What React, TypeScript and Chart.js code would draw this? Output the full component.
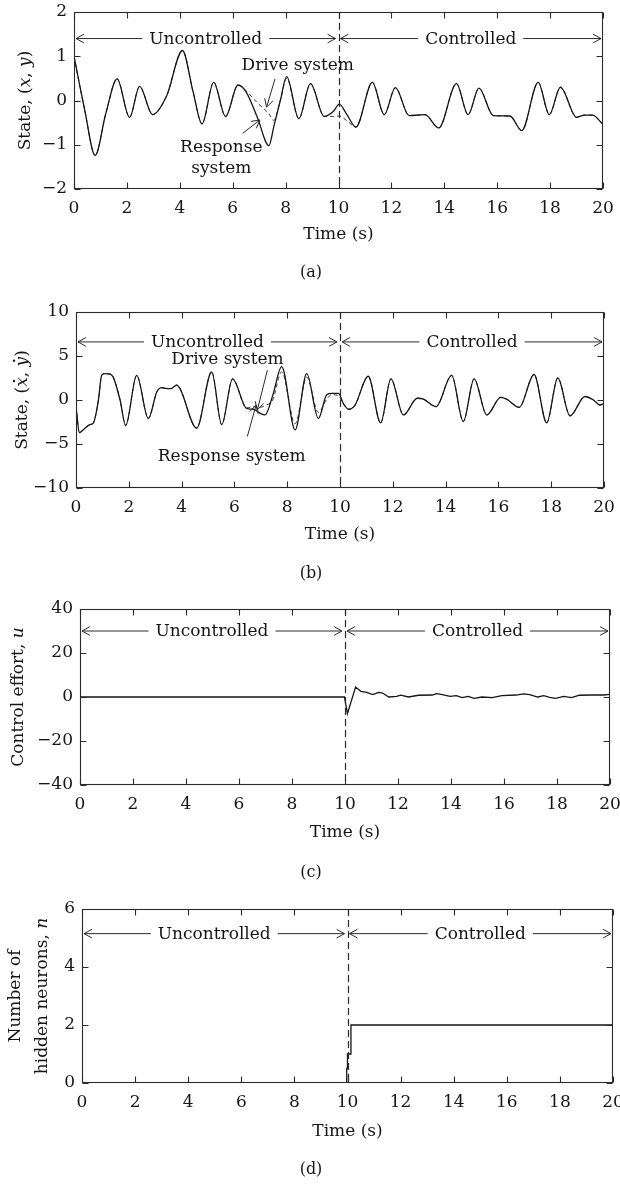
import React, { useEffect, useRef } from 'react';
import { Chart, registerables } from 'chart.js';

Chart.register(...registerables);

const SERIF = '"DejaVu Serif", "Liberation Serif", serif';
const INK = '#151515';

// ---------- axis ticks ----------
const X_TICKS = [0, 2, 4, 6, 8, 10, 12, 14, 16, 18, 20];
const Y_TICKS_A = [-2, -1, 0, 1, 2];
const Y_TICKS_B = [-10, -5, 0, 5, 10];
const Y_TICKS_C = [-40, -20, 0, 20, 40];
const Y_TICKS_D = [0, 2, 4, 6];
const SWITCH_TIME = 10;
const REGION_LABELS = ['Uncontrolled', 'Controlled'];

// ---------- (a) state x, y ----------
const TIME_A = [0, 0.4, 0.8, 1.2, 1.63, 2.1, 2.48, 2.97, 3.5, 4.1, 4.5, 4.84, 5.28, 5.73, 6.2, 6.5, 6.93, 7.37, 7.55, 7.8, 8.04, 8.5, 8.94, 9.46, 9.8, 10.03, 10.3, 10.66, 11.28, 11.73, 12.15, 12.67, 13.0, 13.27, 13.79, 14.46, 14.9, 15.31, 15.85, 16.48, 16.93, 17.55, 17.97, 18.39, 19.0, 19.3, 19.6, 20];
const RESPONSE_A = [1.0, -0.2, -1.24, -0.3, 0.49, -0.38, 0.32, -0.32, 0.1, 1.13, 0.2, -0.53, 0.41, -0.36, 0.35, 0.2, -0.38, -1.02, -0.6, 0.0, 0.54, -0.41, 0.38, -0.36, -0.25, -0.08, -0.3, -0.6, 0.41, -0.32, 0.29, -0.34, -0.33, -0.32, -0.62, 0.38, -0.32, 0.28, -0.34, -0.35, -0.68, 0.41, -0.32, 0.3, -0.38, -0.33, -0.33, -0.54];
const DRIVE_A = [1.0, -0.2, -1.24, -0.3, 0.49, -0.38, 0.32, -0.32, 0.1, 1.13, 0.2, -0.53, 0.41, -0.36, 0.35, 0.22, -0.05, -0.3, -0.45, 0.0, 0.5, -0.41, 0.38, -0.36, -0.36, -0.35, -0.45, -0.6, 0.41, -0.32, 0.29, -0.34, -0.33, -0.32, -0.62, 0.38, -0.32, 0.28, -0.34, -0.35, -0.68, 0.41, -0.32, 0.3, -0.38, -0.33, -0.33, -0.54];

// ---------- (b) state x', y' ----------
const TIME_B = [0, 0.13, 0.34, 0.53, 0.66, 0.85, 0.97, 1.1, 1.29, 1.41, 1.67, 1.88, 2.3, 2.74, 3.06, 3.24, 3.45, 3.6, 3.81, 3.94, 4.57, 5.14, 5.52, 5.93, 6.46, 6.72, 6.97, 7.16, 7.45, 7.79, 8.3, 8.74, 9.18, 9.5, 9.68, 9.94, 10.13, 10.32, 10.57, 11.07, 11.54, 11.93, 12.4, 12.93, 13.16, 13.64, 14.23, 14.67, 15.08, 15.56, 16.09, 16.31, 16.79, 17.35, 17.83, 18.25, 18.71, 19.28, 19.6, 19.85, 20];
const RESPONSE_B = [-0.75, -3.7, -3.2, -2.8, -2.6, 0, 2.8, 3.0, 2.95, 2.6, 0, -2.9, 2.8, -2.1, 0.9, 1.4, 1.3, 1.3, 1.7, 1.3, -3.2, 3.2, -2.8, 2.4, -0.95, -1.05, -1.5, -1.7, 0.5, 3.8, -3.4, 3.0, -2.1, 0.6, 0.75, 0.75, -0.4, -1.05, -0.57, 2.7, -2.6, 2.4, -1.7, 0.2, 0.1, -0.75, 2.8, -2.45, 2.4, -1.7, 0.3, 0.1, -0.83, 2.9, -2.6, 2.5, -1.8, 0.4, 0.0, -0.57, -0.4];
const DRIVE_B = [-0.75, -3.7, -3.2, -2.8, -2.6, 0, 2.8, 3.0, 2.95, 2.6, 0, -2.9, 2.8, -2.1, 0.9, 1.4, 1.3, 1.3, 1.7, 1.3, -3.2, 3.2, -2.8, 2.4, -0.9, -0.75, -0.85, -0.6, 0.0, 3.2, -2.7, 2.6, -1.4, 0.1, 0.6, 0.5, -0.5, -1.05, -0.57, 2.7, -2.6, 2.4, -1.7, 0.2, 0.1, -0.75, 2.8, -2.45, 2.4, -1.7, 0.3, 0.1, -0.83, 2.9, -2.6, 2.5, -1.8, 0.4, 0.0, -0.57, -0.4];

// ---------- (c) control effort u ----------
const TIME_C = [0, 9.98, 10.09, 10.4, 10.6, 10.82, 11.05, 11.27, 11.42, 11.65, 11.95, 12.1, 12.4, 12.77, 13.3, 13.45, 13.67, 13.97, 14.2, 14.42, 14.65, 14.87, 15.17, 15.55, 15.92, 16.45, 16.75, 16.97, 17.27, 17.5, 17.72, 17.95, 18.25, 18.55, 18.85, 19.3, 19.75, 20];
const CONTROL_U = [0, 0, -7.6, 4.5, 2.6, 2.1, 1.1, 2.1, 1.8, 0, 0.3, 0.8, 0, 0.8, 0.9, 1.5, 1.1, 0.3, 0.6, -0.3, 0.3, -0.6, 0, -0.3, 0.6, 0.9, 1.4, 1.1, 0, 0.6, -0.15, -0.6, 0.3, -0.3, 0.8, 0.9, 0.9, 1.2];

// ---------- (d) number of hidden neurons n ----------
const TIME_D = [0, 9.97, 9.97, 10.0, 10.0, 10.13, 10.13, 20];
const NEURONS_N = [0, 0, 0.5, 0.5, 1, 1, 2, 2];

type Seg = { text: string; italic?: boolean; dot?: boolean };
type Pointer = { lines: string[]; t: number; v: number };
type Arrow = { from: [number, number]; to: [number, number] };
type Spec = {
  height: number;
  left: number; right: number; top: number; bottom: number;
  yMin: number; yMax: number; yTicks: number[];
  datasets: any[];
  titles: { segs: Seg[]; x: number }[];
  arrowY: number;
  caption: string;
  timeY: number;
  captionY: number;
  pointers: Pointer[];
  arrows: Arrow[];
};

function fmt(v: number) {
  return v < 0 ? '\u2212' + Math.abs(v) : String(v);
}

function pts(t: number[], v: number[]) {
  return t.map((x, i) => ({ x, y: v[i] }));
}

function arrowHead(ctx: CanvasRenderingContext2D, x1: number, y1: number, x2: number, y2: number) {
  const len = 9;
  const half = 0.5;
  const a = Math.atan2(y2 - y1, x2 - x1);
  ctx.beginPath();
  ctx.moveTo(x2 - len * Math.cos(a - half), y2 - len * Math.sin(a - half));
  ctx.lineTo(x2, y2);
  ctx.lineTo(x2 - len * Math.cos(a + half), y2 - len * Math.sin(a + half));
  ctx.stroke();
}

function regionArrow(ctx: CanvasRenderingContext2D, xa: number, xb: number, y: number, text: string) {
  ctx.font = `17px ${SERIF}`;
  const w = ctx.measureText(text).width;
  const cx = (xa + xb) / 2;
  const g = 7;
  ctx.beginPath();
  ctx.moveTo(xa, y);
  ctx.lineTo(cx - w / 2 - g, y);
  ctx.moveTo(cx + w / 2 + g, y);
  ctx.lineTo(xb, y);
  ctx.stroke();
  arrowHead(ctx, xa + 20, y, xa, y);
  arrowHead(ctx, xb - 20, y, xb, y);
  ctx.textAlign = 'center';
  ctx.textBaseline = 'middle';
  ctx.fillText(text, cx, y + 1);
}

function makeDecor(spec: Spec) {
  return {
    id: 'decor',
    afterDraw(chart: any) {
      const ctx: CanvasRenderingContext2D = chart.ctx;
      const xs = chart.scales.x;
      const ys = chart.scales.y;
      const { left, right, top, bottom } = chart.chartArea;
      ctx.save();
      ctx.strokeStyle = '#2a2a2a';
      ctx.fillStyle = INK;

      // dashed switch line
      const sx = Math.round(xs.getPixelForValue(SWITCH_TIME)) + 0.5;
      ctx.lineWidth = 1.2;
      ctx.setLineDash([7, 4]);
      ctx.beginPath();
      ctx.moveTo(sx, top);
      ctx.lineTo(sx, bottom);
      ctx.stroke();
      ctx.setLineDash([]);

      // frame
      ctx.lineWidth = 1.1;
      const L = Math.round(left) + 0.5, R = Math.round(right) - 0.5;
      const T = Math.round(top) + 0.5, B = Math.round(bottom) - 0.5;
      ctx.strokeRect(L, T, R - L, B - T);

      // inward ticks
      const tl = 6;
      ctx.beginPath();
      xs.ticks.forEach((tk: any) => {
        const px = Math.round(xs.getPixelForValue(tk.value)) + 0.5;
        ctx.moveTo(px, B); ctx.lineTo(px, B - tl);
        ctx.moveTo(px, T); ctx.lineTo(px, T + tl);
      });
      ys.ticks.forEach((tk: any) => {
        const py = Math.round(ys.getPixelForValue(tk.value)) + 0.5;
        ctx.moveTo(L, py); ctx.lineTo(L + tl, py);
        ctx.moveTo(R, py); ctx.lineTo(R - tl, py);
      });
      ctx.stroke();

      // tick labels
      ctx.font = `17px ${SERIF}`;
      ctx.textAlign = 'center';
      ctx.textBaseline = 'middle';
      xs.ticks.forEach((tk: any) => {
        ctx.fillText(fmt(tk.value), xs.getPixelForValue(tk.value), bottom + 20);
      });
      ctx.textAlign = 'right';
      ys.ticks.forEach((tk: any) => {
        ctx.fillText(fmt(tk.value), left - 7, ys.getPixelForValue(tk.value));
      });

      // region arrows
      const ay = ys.getPixelForValue(spec.arrowY);
      const x0 = xs.getPixelForValue(0), x10 = xs.getPixelForValue(SWITCH_TIME), x20 = xs.getPixelForValue(20);
      ctx.lineWidth = 1;
      regionArrow(ctx, x0 + 2, x10 - 3, ay, REGION_LABELS[0]);
      regionArrow(ctx, x10 + 2, x20 - 2, ay, REGION_LABELS[1]);

      // pointer annotations
      ctx.font = `17px ${SERIF}`;
      ctx.textAlign = 'center';
      ctx.textBaseline = 'middle';
      spec.pointers.forEach((p) => {
        const px = xs.getPixelForValue(p.t);
        const py = ys.getPixelForValue(p.v);
        p.lines.forEach((ln, i) => ctx.fillText(ln, px, py + i * 21));
      });
      spec.arrows.forEach((a) => {
        const x1 = xs.getPixelForValue(a.from[0]), y1 = ys.getPixelForValue(a.from[1]);
        const x2 = xs.getPixelForValue(a.to[0]), y2 = ys.getPixelForValue(a.to[1]);
        ctx.beginPath();
        ctx.moveTo(x1, y1);
        ctx.lineTo(x2, y2);
        ctx.stroke();
        arrowHead(ctx, x1, y1, x2, y2);
      });

      // x title + caption
      ctx.font = `17px ${SERIF}`;
      ctx.textAlign = 'center';
      ctx.fillText('Time (s)', (left + right) / 2, spec.timeY);
      ctx.font = `16px ${SERIF}`;
      ctx.fillText(spec.caption, 311, spec.captionY);

      // y titles (rotated, mixed italic)
      const cy = (top + bottom) / 2;
      spec.titles.forEach((tt) => {
        ctx.save();
        ctx.translate(tt.x, cy);
        ctx.rotate(-Math.PI / 2);
        ctx.textAlign = 'left';
        ctx.textBaseline = 'middle';
        let total = 0;
        const widths = tt.segs.map((s) => {
          ctx.font = `${s.italic ? 'italic ' : ''}17px ${SERIF}`;
          const w = ctx.measureText(s.text).width;
          total += w;
          return w;
        });
        let cur = -total / 2;
        tt.segs.forEach((s, i) => {
          ctx.font = `${s.italic ? 'italic ' : ''}17px ${SERIF}`;
          ctx.fillText(s.text, cur, 1);
          if (s.dot) {
            ctx.beginPath();
            ctx.arc(cur + widths[i] / 2 + 1, -8, 1.2, 0, Math.PI * 2);
            ctx.fill();
          }
          cur += widths[i];
        });
        ctx.restore();
      });

      ctx.restore();
    },
  };
}

function buildChart(canvas: HTMLCanvasElement, spec: Spec) {
  return new Chart(canvas, {
    type: 'line',
    data: { datasets: spec.datasets },
    options: {
      animation: false,
      responsive: false,
      maintainAspectRatio: false,
      layout: { padding: { left: 0, right: 620 - spec.right, top: spec.top, bottom: 0 } },
      plugins: { legend: { display: false }, tooltip: { enabled: false } },
      elements: { point: { radius: 0 } },
      scales: {
        x: {
          type: 'linear',
          min: 0,
          max: 20,
          grid: { display: false, drawTicks: false },
          border: { display: false },
          ticks: { display: false },
          afterBuildTicks: (s: any) => { s.ticks = X_TICKS.map((v) => ({ value: v })); },
          afterFit: (s: any) => { s.height = spec.height - spec.bottom; },
        },
        y: {
          type: 'linear',
          min: spec.yMin,
          max: spec.yMax,
          grid: { display: false, drawTicks: false },
          border: { display: false },
          ticks: { display: false },
          afterBuildTicks: (s: any) => { s.ticks = spec.yTicks.map((v) => ({ value: v })); },
          afterFit: (s: any) => { s.width = spec.left; },
        },
      },
    } as any,
    plugins: [makeDecor(spec)],
  });
}

const solid = (data: any[], smooth: boolean) => ({
  data,
  borderColor: '#151515',
  borderWidth: 1.3,
  cubicInterpolationMode: smooth ? 'monotone' : 'default',
  tension: 0,
  pointRadius: 0,
});
const dashed = (data: any[]) => ({
  data,
  borderColor: '#333',
  borderWidth: 1,
  borderDash: [4, 3],
  cubicInterpolationMode: 'monotone',
  pointRadius: 0,
});

const SPECS: { top: number; spec: Spec }[] = [
  {
    top: 0,
    spec: {
      height: 300, left: 74, right: 603, top: 12, bottom: 189,
      yMin: -2, yMax: 2, yTicks: Y_TICKS_A,
      datasets: [solid(pts(TIME_A, RESPONSE_A), true), dashed(pts(TIME_A, DRIVE_A))],
      titles: [{ x: 25, segs: [{ text: 'State, (' }, { text: 'x', italic: true }, { text: ', ' }, { text: 'y', italic: true }, { text: ')' }] }],
      arrowY: 1.4,
      caption: '(a)', timeY: 235, captionY: 273,
      pointers: [
        { lines: ['Drive system'], t: 8.46, v: 0.79 },
        { lines: ['Response', 'system'], t: 5.57, v: -1.06 },
      ],
      arrows: [
        { from: [7.6, 0.49], to: [7.28, -0.15] },
        { from: [6.38, -0.74], to: [7.03, -0.44] },
      ],
    },
  },
  {
    top: 300,
    spec: {
      height: 300, left: 76, right: 604, top: 12, bottom: 188,
      yMin: -10, yMax: 10, yTicks: Y_TICKS_B,
      datasets: [solid(pts(TIME_B, RESPONSE_B), true), dashed(pts(TIME_B, DRIVE_B))],
      titles: [{ x: 22, segs: [{ text: 'State, (' }, { text: 'x', italic: true, dot: true }, { text: ', ' }, { text: 'y', italic: true, dot: true }, { text: ')' }] }],
      arrowY: 6.6,
      caption: '(b)', timeY: 235, captionY: 274,
      pointers: [
        { lines: ['Drive system'], t: 5.74, v: 4.55 },
        { lines: ['Response system'], t: 5.9, v: -6.4 },
      ],
      arrows: [
        { from: [7.25, 3.4], to: [6.87, -1.13] },
        { from: [6.49, -4.15], to: [6.82, -0.57] },
      ],
    },
  },
  {
    top: 600,
    spec: {
      height: 300, left: 80, right: 610, top: 9, bottom: 185,
      yMin: -40, yMax: 40, yTicks: Y_TICKS_C,
      datasets: [solid(pts(TIME_C, CONTROL_U), false)],
      titles: [{ x: 18, segs: [{ text: 'Control effort, ' }, { text: 'u', italic: true }] }],
      arrowY: 30,
      caption: '(c)', timeY: 233, captionY: 273,
      pointers: [],
      arrows: [],
    },
  },
  {
    top: 900,
    spec: {
      height: 284, left: 82, right: 613, top: 9, bottom: 183,
      yMin: 0, yMax: 6, yTicks: Y_TICKS_D,
      datasets: [solid(pts(TIME_D, NEURONS_N), false)],
      titles: [
        { x: 15, segs: [{ text: 'Number of' }] },
        { x: 42, segs: [{ text: 'hidden neurons, ' }, { text: 'n', italic: true }] },
      ],
      arrowY: 5.15,
      caption: '(d)', timeY: 232, captionY: 270,
      pointers: [],
      arrows: [],
    },
  },
];

function Panel({ spec, top }: { spec: Spec; top: number }) {
  const ref = useRef<HTMLCanvasElement>(null);
  useEffect(() => {
    const chart = buildChart(ref.current as HTMLCanvasElement, spec);
    return () => chart.destroy();
  }, []);
  return (
    <canvas
      ref={ref}
      width={620}
      height={spec.height}
      style={{ position: 'absolute', left: 0, top, width: 620, height: spec.height, display: 'block' }}
    />
  );
}

export default function App() {
  return (
    <div style={{ position: 'absolute', left: 0, top: 0, width: 620, height: 1184, background: '#fff' }}>
      {SPECS.map((p, i) => (
        <Panel key={i} spec={p.spec} top={p.top} />
      ))}
    </div>
  );
}
